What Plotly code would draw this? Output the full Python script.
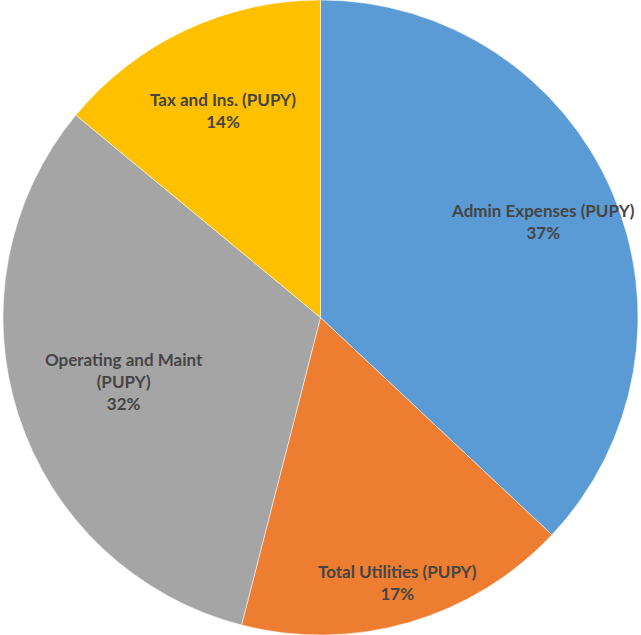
import math
import plotly.graph_objects as go

labels = ["Admin Expenses (PUPY)", "Total Utilities (PUPY)", "Operating and Maint (PUPY)", "Tax and Ins. (PUPY)"]
display_labels = ["Admin Expenses (PUPY)", "Total Utilities (PUPY)", "Operating and Maint<br>(PUPY)", "Tax and Ins. (PUPY)"]
values = [37, 17, 32, 14]
colors = ["#5B9BD5", "#ED7D31", "#A5A5A5", "#FFC000"]
label_radius = [0.765, 0.87, 0.65, 0.72]

W, H = 641, 635

fig = go.Figure(go.Pie(
    labels=labels,
    values=values,
    sort=False,
    direction="clockwise",
    rotation=0,
    marker=dict(colors=colors, line=dict(color="white", width=0.5)),
    textinfo="none",
    hoverinfo="label+percent",
    showlegend=False,
    domain=dict(x=[0, 1], y=[0, 1]),
))

total = sum(values)
R = min(W, H) / 2
cum = 0
annotations = []
for lab, v, rf in zip(display_labels, values, label_radius):
    mid = (cum + v / 2) / total * 2 * math.pi
    cum += v
    dx = math.sin(mid) * R * rf
    dy = math.cos(mid) * R * rf
    pct = round(v / total * 100)
    annotations.append(dict(
        x=0.5 + dx / W, y=0.5 + dy / H, xref="paper", yref="paper",
        text=f"<b>{lab}<br>{pct}%</b>", showarrow=False,
        font=dict(family="Lato, Open Sans, sans-serif", size=17, color="#454545"),
        align="center", xanchor="center", yanchor="middle",
    ))

fig.update_layout(
    width=W, height=H,
    margin=dict(l=0, r=0, t=0, b=0),
    paper_bgcolor="white",
    annotations=annotations,
)
fig.write_html("out.html", config={"displayModeBar": False},
               post_script="document.body.style.margin='0';")
